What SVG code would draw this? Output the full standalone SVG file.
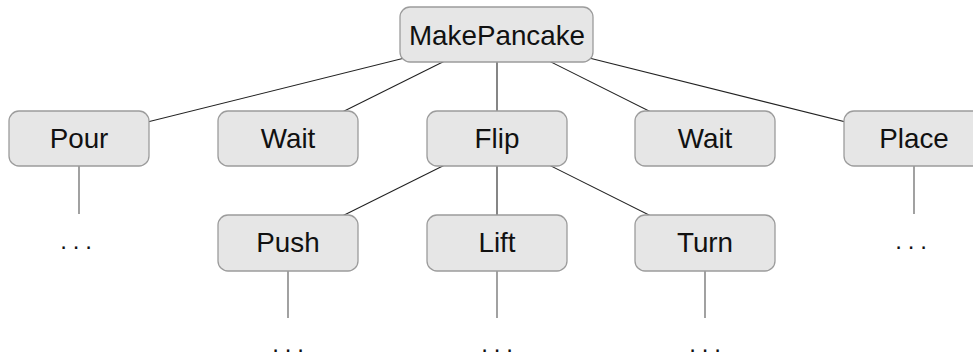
<svg xmlns="http://www.w3.org/2000/svg" width="973" height="356" viewBox="0 0 973 356">
  <style>
    .node rect { fill: #e6e6e6; stroke: #9c9c9c; stroke-width: 1.3; }
    .node text { font-family: "Liberation Sans", Arial, sans-serif; font-size: 27.8px; fill: #111; text-anchor: middle; }
    .edges line { stroke: #222; stroke-width: 1.1; }
    .edges line.stub { stroke: #555; }
    .dots { font-family: "Liberation Sans", Arial, sans-serif; font-size: 24px; fill: #111; letter-spacing: 5.8px; text-anchor: middle; }
  </style>
  <rect width="973" height="356" fill="#fff"/>

  <!-- connectors: center to center, drawn under the boxes -->
  <g id="edges" class="edges">
    <line x1="497" y1="35" x2="79" y2="139"/>
    <line x1="497" y1="35" x2="288" y2="139"/>
    <line x1="497" y1="35" x2="497" y2="139"/>
    <line x1="497" y1="35" x2="705" y2="139"/>
    <line x1="497" y1="35" x2="914" y2="139"/>
    <line x1="497" y1="139" x2="288" y2="243"/>
    <line x1="497" y1="139" x2="497" y2="243"/>
    <line x1="497" y1="139" x2="705" y2="243"/>
    <line class="stub" x1="79" y1="166" x2="79" y2="214"/>
    <line class="stub" x1="914" y1="166" x2="914" y2="214"/>
    <line class="stub" x1="288" y1="271" x2="288" y2="318"/>
    <line class="stub" x1="497" y1="271" x2="497" y2="318"/>
    <line class="stub" x1="705" y1="271" x2="705" y2="318"/>
  </g>

  <g id="makepancake" class="node">
    <rect x="400" y="7" width="193" height="55" rx="10"/>
    <text x="497" y="45">MakePancake</text>
  </g>
  <g id="pour" class="node">
    <rect x="9" y="111" width="140" height="55" rx="10"/>
    <text x="79" y="148">Pour</text>
  </g>
  <g id="wait1" class="node">
    <rect x="218" y="111" width="140" height="55" rx="10"/>
    <text x="288" y="148">Wait</text>
  </g>
  <g id="flip" class="node">
    <rect x="427" y="111" width="140" height="55" rx="10"/>
    <text x="497" y="148">Flip</text>
  </g>
  <g id="wait2" class="node">
    <rect x="635" y="111" width="140" height="55" rx="10"/>
    <text x="705" y="148">Wait</text>
  </g>
  <g id="place" class="node">
    <rect x="844" y="111" width="140" height="55" rx="10"/>
    <text x="914" y="148">Place</text>
  </g>
  <g id="push" class="node">
    <rect x="218" y="215" width="140" height="56" rx="10"/>
    <text x="288" y="252">Push</text>
  </g>
  <g id="lift" class="node">
    <rect x="427" y="215" width="140" height="56" rx="10"/>
    <text x="497" y="252">Lift</text>
  </g>
  <g id="turn" class="node">
    <rect x="635" y="215" width="140" height="56" rx="10"/>
    <text x="705" y="252">Turn</text>
  </g>

  <!-- elided subtrees -->
  <g id="ellipses">
    <text class="dots" x="79" y="249">...</text>
    <text class="dots" x="914" y="249">...</text>
    <text class="dots" x="291" y="352">...</text>
    <text class="dots" x="500" y="352">...</text>
    <text class="dots" x="708" y="352">...</text>
  </g>
</svg>
